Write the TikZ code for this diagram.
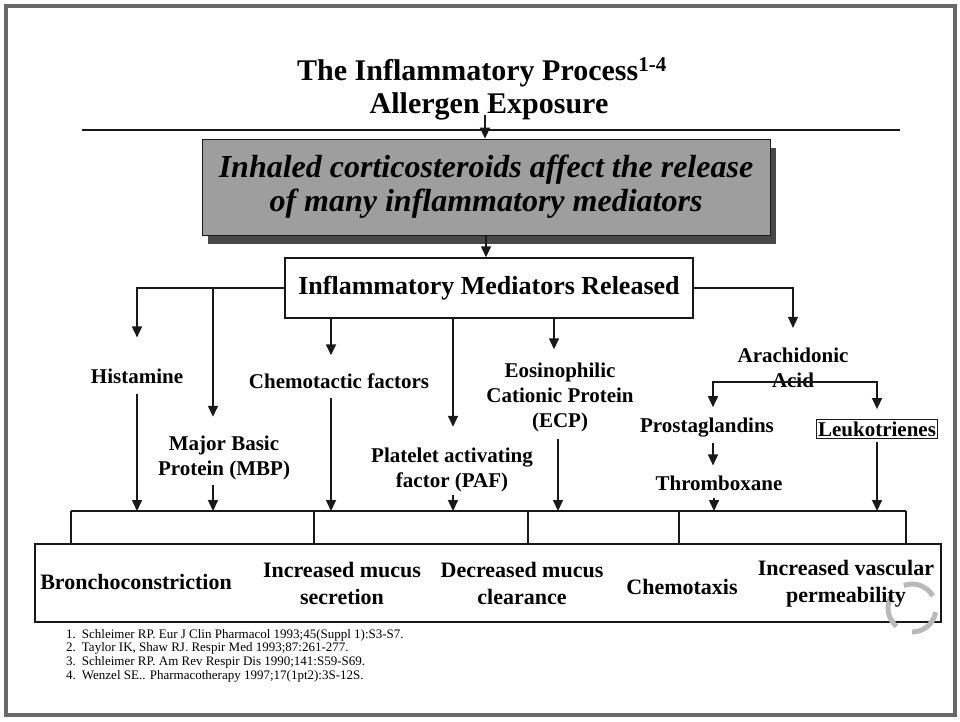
\documentclass[tikz,border=0pt]{standalone}
\usepackage{fontspec}
\setmainfont{Liberation Serif}
\usetikzlibrary{arrows.meta, positioning, calc, shadows}

\definecolor{boxgray}{RGB}{158,158,158}
\definecolor{shadegray}{RGB}{72,72,72}
\definecolor{framegray}{RGB}{105,105,105}
\definecolor{inkgray}{RGB}{25,25,25}

\tikzset{
  wire/.style={line width=1.5pt, draw=inkgray},
  arr/.style={wire, -{Triangle[length=11pt,width=10pt]}},
  lbl/.style={font=\fontsize{21}{25}\selectfont\bfseries, align=center, inner sep=1pt},
  outtxt/.style={font=\fontsize{22}{27}\selectfont\bfseries, align=center, inner sep=1pt},
  swirl/.style={draw=gray!55, line width=5pt},
}

\begin{document}
\begin{tikzpicture}[x=1pt, y=-1pt]
\useasboundingbox (0,0) rectangle (960,721);

% frame round the slide
\draw[framegray, line width=3.5pt] (6,6) rectangle (955,715);

% Title and rule
\node[font=\fontsize{30}{36}\selectfont\bfseries] (title) at (482,72) {The Inflammatory Process\textsuperscript{1-4}};
\node[font=\fontsize{30}{36}\selectfont\bfseries] (allergen) at (489,106) {Allergen Exposure};
\draw[wire] (82,130) -- (900,130);

% Corticosteroid box and mediators box
\node[draw=inkgray, line width=0.8pt, fill=boxgray, minimum width=568pt, minimum height=96pt,
      drop shadow={shadow xshift=6pt, shadow yshift=-9pt, fill=shadegray, opacity=1},
      font=\fontsize{32}{34}\selectfont\bfseries\itshape, align=center]
      (inhaled) at (486,187) {Inhaled corticosteroids affect the release\\of many inflammatory mediators};
\node[wire, minimum width=408pt, minimum height=60pt, font=\fontsize{26}{30}\selectfont\bfseries]
      (med) at (489,288) {Inflammatory Mediators Released};

\draw[arr] ([xshift=-4pt, yshift=8pt]allergen.south) -- ([xshift=-4pt]allergen.south |- inhaled.north);
\draw[arr] (inhaled.south) -- (inhaled.south |- med.north);

% Mediators
\node[lbl] (hist) at (137,376) {Histamine};
\node[lbl] (mbp) at (224,458) {Major Basic\\Protein (MBP)};
\node[lbl] (chemo) at (339,381) {Chemotactic factors};
\node[lbl] (paf) at (452,470) {Platelet activating\\factor (PAF)};
\node[lbl] (ecp) at (560,397) {Eosinophilic\\Cationic Protein\\(ECP)};
\node[lbl] (aa) at (793,368) {Arachidonic\\Acid};
\node[lbl] (prost) at (707,428) {Prostaglandins};
\node[lbl, draw=inkgray, line width=1pt, inner sep=2pt] (leuk) at (877,429) {Leukotrienes};
\node[lbl] (thromb) at (719,483) {Thromboxane};

% Arrows from the mediators box
\draw[arr] (med.west) -| ([yshift=30pt]hist.north);
\draw[arr] ([xshift=-11pt]mbp.north |- med.west) -- ([xshift=-11pt, yshift=18pt]mbp.north);
\draw[arr] ([xshift=-8pt]chemo.north |- med.south) -- ([xshift=-8pt, yshift=17pt]chemo.north);
\draw[arr] ([xshift=1pt]paf.north |- med.south) -- ([xshift=1pt, yshift=20pt]paf.north);
\draw[arr] ([xshift=-6pt]ecp.north |- med.south) -- ([xshift=-6pt, yshift=12pt]ecp.north);
\draw[arr] (med.east) -| ([yshift=19pt]aa.north);

% Arachidonic acid pathway
\coordinate (aaj) at (793,382);
\draw[arr] (aaj) -| ([xshift=6pt, yshift=10pt]prost.north);
\draw[arr] (aaj) -| ([yshift=10pt]leuk.north);
\draw[arr] ([xshift=6pt, yshift=-4pt]prost.south) -- ([xshift=-6pt, yshift=9pt]thromb.north);

% Collecting bracket and effects
\coordinate (brk) at (488,511);
\foreach \n/\dx/\dy in {hist/0/9, mbp/-11/4, chemo/-8/8, paf/1/2, ecp/-2/6, thromb/-5/6, leuk/0/3} {
  \draw[arr] ([xshift=\dx pt, yshift=-\dy pt]\n.south) -- ([xshift=\dx pt]\n.south |- brk);
}
\draw[wire] (71,511) -- (906,511);
\foreach \x in {71,314,528,679,906} {
  \draw[wire] (\x,511) -- (\x,544);
}
\node[wire, minimum width=906pt, minimum height=78pt] (out) at (488,583) {};

% logo
\foreach \a in {10,130,250} {
  \draw[swirl] ([shift={(\a:24)}]912,608) arc[start angle=\a, end angle=\a+80, radius=24];
}

\node[outtxt] (bron) at (136,582) {Bronchoconstriction};
\node[outtxt] (ims) at (342,583) {Increased mucus\\secretion};
\node[outtxt] (dmc) at (522,583) {Decreased mucus\\clearance};
\node[outtxt] (ctx) at (682,587) {Chemotaxis};
\node[outtxt] (ivp) at (846,584) {Increased vascular\\permeability};

% References
\node[font=\fontsize{13}{13.6}\selectfont, anchor=north west, align=left, inner sep=0pt] (refs) at (66,629)
  {1.\hspace{6pt}Schleimer RP. Eur J Clin Pharmacol 1993;45(Suppl 1):S3-S7.\\
   2.\hspace{6pt}Taylor IK, Shaw RJ. Respir Med 1993;87:261-277.\\
   3.\hspace{6pt}Schleimer RP. Am Rev Respir Dis 1990;141:S59-S69.\\
   4.\hspace{6pt}Wenzel SE.. Pharmacotherapy 1997;17(1pt2):3S-12S.};
\end{tikzpicture}
\end{document}
